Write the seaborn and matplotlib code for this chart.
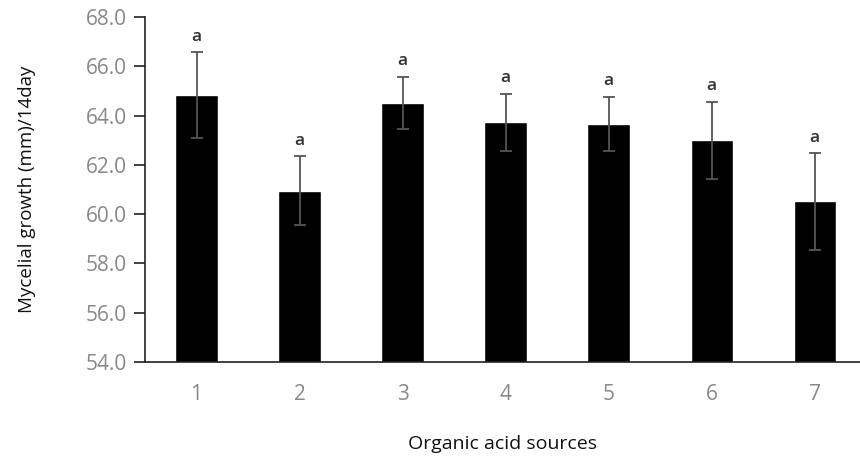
import matplotlib
matplotlib.use("Agg")
import matplotlib.pyplot as plt
import seaborn as sns
import pandas as pd
import numpy as np

sources = ["1", "2", "3", "4", "5", "6", "7"]
growth = [64.83, 60.95, 64.52, 63.72, 63.66, 63.0, 60.52]
err = [1.75, 1.4, 1.05, 1.17, 1.1, 1.57, 1.96]
letters = ["a", "a", "a", "a", "a", "a", "a"]

df = pd.DataFrame({"source": sources, "growth": growth})

sns.set_style("white")
plt.rcParams["font.family"] = ["Open Sans", "DejaVu Sans"]

fig = plt.figure(figsize=(8.6, 4.57), dpi=100)
ax = fig.add_axes([145/860, 1 - 362/457, (860 - 145)/860, (362 - 17)/457])

sns.barplot(data=df, x="source", y="growth", order=sources, color="black",
            width=0.41, ax=ax, errorbar=None, saturation=1)
ax.errorbar(np.arange(len(sources)), growth, yerr=err, fmt="none",
            ecolor="#555555", elinewidth=1.3, capsize=4.5, capthick=1.3)
for i, (g, e, l) in enumerate(zip(growth, err, letters)):
    ax.text(i, g + e + 0.3, l, ha="center", va="bottom", fontsize=12.5,
            color="#333333", fontweight="semibold")

ax.set_ylim(54, 68)
ax.set_xlim(-0.5, 6.44)
ax.set_yticks(np.arange(54, 68.1, 2))
ax.set_yticklabels([f"{v:.1f}" for v in np.arange(54, 68.1, 2)])
for s in ["top", "right"]:
    ax.spines[s].set_visible(False)
for s in ["left", "bottom"]:
    ax.spines[s].set_color("#222222")
    ax.spines[s].set_linewidth(1.2)
ax.tick_params(axis="y", left=True, length=8, width=1.2, color="#222222",
               labelsize=15, labelcolor="#888888", pad=5)
ax.tick_params(axis="x", bottom=False, labelsize=15, labelcolor="#888888", pad=12)
ax.set_ylabel("Mycelial growth (mm)/14day", fontsize=13.5, color="#111111", labelpad=36)
ax.set_xlabel("Organic acid sources", fontsize=14, color="#111111", labelpad=22)

fig.savefig("out.png", dpi=100)
